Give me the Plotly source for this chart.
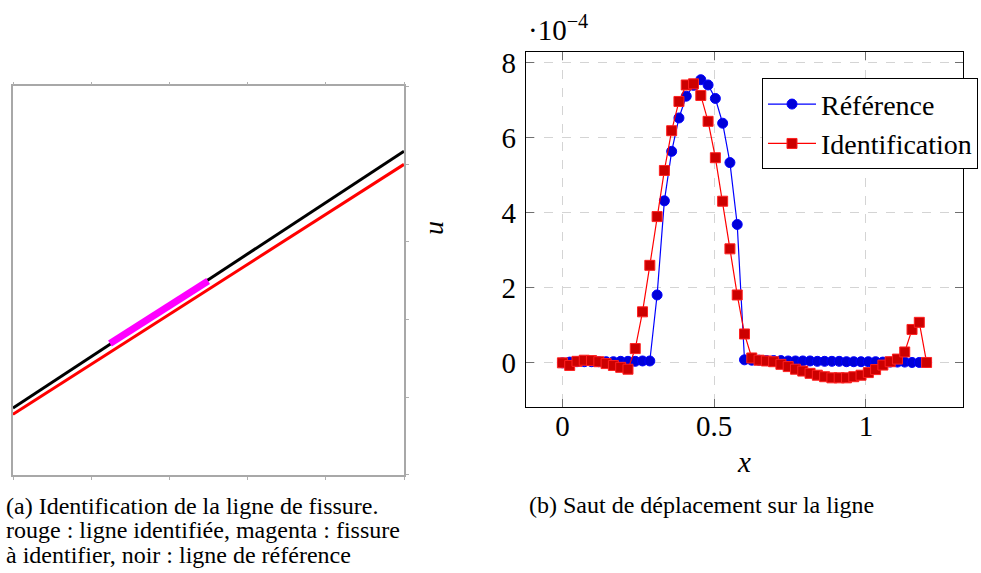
import plotly.graph_objects as go

# ---------------- data ----------------
# (a) crack lines (normalised image coordinates)
ligne_ref_x = [0.0, 1.0]
ligne_ref_y = [0.172, 0.833]
ligne_ident_x = [0.0, 1.0]
ligne_ident_y = [0.156, 0.799]
fissure_x = [0.248, 0.499]
fissure_y = [0.338, 0.499]
cadre_ticks = [0.0, 0.2, 0.4, 0.6, 0.8, 1.0]

# (b) displacement jump along the line (values in units of 1e-4)
x_pos = [0.000, 0.024, 0.048, 0.072, 0.096, 0.120, 0.144, 0.168, 0.192, 0.216,
         0.240, 0.264, 0.288, 0.312, 0.336, 0.360, 0.384, 0.408, 0.432, 0.456,
         0.480, 0.504, 0.528, 0.552, 0.576, 0.600, 0.624, 0.648, 0.672, 0.696,
         0.720, 0.744, 0.768, 0.792, 0.816, 0.840, 0.864, 0.888, 0.912, 0.936,
         0.960, 0.984, 1.008, 1.032, 1.056, 1.080, 1.104, 1.128, 1.152, 1.176,
         1.200]
saut_reference = [0.00, 0.02, 0.03, 0.03, 0.03, 0.03, 0.03, 0.03, 0.04, 0.04,
                  0.04, 0.05, 0.05, 1.81, 4.32, 5.64, 6.53, 7.11, 7.40, 7.55,
                  7.41, 7.05, 6.39, 5.34, 3.69, 0.08, 0.07, 0.07, 0.06, 0.06,
                  0.06, 0.05, 0.05, 0.05, 0.05, 0.04, 0.04, 0.04, 0.04, 0.03,
                  0.03, 0.03, 0.03, 0.03, 0.02, 0.02, 0.02, 0.02, 0.01, 0.01,
                  0.01]
saut_identification = [0.00, -0.07, 0.04, 0.07, 0.06, 0.03, -0.02, -0.07, -0.12, -0.17,
                       0.38, 1.36, 2.60, 3.90, 5.13, 6.19, 6.97, 7.41, 7.44, 7.13,
                       6.44, 5.47, 4.31, 3.04, 1.81, 0.77, 0.13, 0.07, 0.05, 0.03,
                       -0.04, -0.10, -0.17, -0.22, -0.28, -0.33, -0.37, -0.40, -0.40, -0.40,
                       -0.37, -0.33, -0.26, -0.18, -0.06, 0.03, 0.10, 0.29, 0.89, 1.08,
                       0.01]
x_ticks = [0, 0.5, 1]
x_ticktext = ["0", "0.5", "1"]
y_ticks = [0, 2, 4, 6, 8]
y_ticktext = ["0", "2", "4", "6", "8"]

caption_a = ["(a) Identification de la ligne de fissure.",
             "rouge : ligne identifiée, magenta : fissure",
             "à identifier, noir : ligne de référence"]
caption_b = "(b) Saut de déplacement sur la ligne"

# ---------------- figure ----------------
W, H = 981, 573
SERIF = "Liberation Serif"

def px_x(p):
    return p / W

def px_y(p):
    return 1 - p / H

fig = go.Figure()

# panel (a)
fig.add_trace(go.Scatter(x=ligne_ref_x, y=ligne_ref_y, mode="lines",
                         line=dict(color="black", width=3),
                         xaxis="x", yaxis="y", showlegend=False))
fig.add_trace(go.Scatter(x=ligne_ident_x, y=ligne_ident_y, mode="lines",
                         line=dict(color="#ff0000", width=3),
                         xaxis="x", yaxis="y", showlegend=False))
fig.add_trace(go.Scatter(x=fissure_x, y=fissure_y, mode="lines",
                         line=dict(color="#ff00ff", width=7),
                         xaxis="x", yaxis="y", showlegend=False))

# panel (b)
fig.add_trace(go.Scatter(x=x_pos, y=saut_reference, mode="lines+markers",
                         name="Référence",
                         line=dict(color="#0000ff", width=1.2),
                         marker=dict(symbol="circle", size=10, color="#0000d8",
                                     line=dict(color="#0000ff", width=1)),
                         xaxis="x2", yaxis="y2"))
fig.add_trace(go.Scatter(x=x_pos, y=saut_identification, mode="lines+markers",
                         name="Identification",
                         line=dict(color="#ff0000", width=1.2),
                         marker=dict(symbol="square", size=10, color="#cc0000",
                                     line=dict(color="#ff2020", width=1)),
                         xaxis="x2", yaxis="y2"))

annotations = []
# u label of panel (a)
annotations.append(dict(text="<i>u</i>", x=px_x(433), y=px_y(225), xref="paper", yref="paper",
                        showarrow=False, textangle=-90,
                        font=dict(family=SERIF, size=28, color="black")))
# exponent label
annotations.append(dict(text="·10<sup>−4</sup>", x=px_x(526), y=px_y(23), xref="paper", yref="paper",
                        xanchor="left", yanchor="middle", showarrow=False,
                        font=dict(family=SERIF, size=29, color="black")))
# captions
for i, line in enumerate(caption_a):
    annotations.append(dict(text=line, x=px_x(4), y=px_y(505 + 25 * i), xref="paper", yref="paper",
                            xanchor="left", yanchor="middle", showarrow=False,
                            font=dict(family=SERIF, size=24, color="black")))
annotations.append(dict(text=caption_b, x=px_x(527), y=px_y(504), xref="paper", yref="paper",
                        xanchor="left", yanchor="middle", showarrow=False,
                        font=dict(family=SERIF, size=24, color="black")))

fig.update_layout(
    width=W, height=H,
    margin=dict(l=0, r=0, t=0, b=0),
    paper_bgcolor="white", plot_bgcolor="white",
    font=dict(family=SERIF, color="black"),
    xaxis=dict(domain=[px_x(13), px_x(404)], range=[0, 1], tickvals=cadre_ticks,
               showticklabels=False, showgrid=False, zeroline=False,
               showline=True, linecolor="#a8a8a8", linewidth=1.5, mirror="ticks",
               ticks="outside", ticklen=3, tickwidth=1, tickcolor="#b0b0b0"),
    yaxis=dict(domain=[px_y(474), px_y(82)], range=[0, 1], tickvals=cadre_ticks,
               showticklabels=False, showgrid=False, zeroline=False, side="right",
               showline=True, linecolor="#a8a8a8", linewidth=1.5, mirror=True,
               ticks="outside", ticklen=3, tickwidth=1, tickcolor="#b0b0b0"),
    xaxis2=dict(domain=[px_x(526), px_x(963)], range=[-0.12, 1.32], anchor="y2",
                tickvals=x_ticks, ticktext=x_ticktext,
                tickfont=dict(family=SERIF, size=29, color="black"),
                showgrid=True, gridcolor="#d4d4d4", griddash="dash", gridwidth=1,
                zeroline=False, showline=True, linecolor="black", linewidth=1.2,
                mirror="ticks", ticks="inside", ticklen=8, tickcolor="#707070",
                ticklabelstandoff=-7,
                title=dict(text="<i>x</i>", font=dict(family=SERIF, size=29, color="black"),
                           standoff=10)),
    yaxis2=dict(domain=[px_y(406), px_y(47)], range=[-1.19, 8.3], anchor="x2",
                tickvals=y_ticks, ticktext=y_ticktext,
                tickfont=dict(family=SERIF, size=29, color="black"),
                showgrid=True, gridcolor="#d4d4d4", griddash="dash", gridwidth=1,
                zeroline=False, showline=True, linecolor="black", linewidth=1.2,
                mirror="ticks", ticks="inside", ticklen=8, tickcolor="#707070",
                ticklabelstandoff=3),
    legend=dict(x=px_x(762), y=px_y(74), xanchor="left", yanchor="top",
                bgcolor="white", bordercolor="black", borderwidth=1,
                font=dict(family=SERIF, size=28, color="black"),
                itemwidth=48, tracegroupgap=0),
    annotations=annotations,
)

fig.write_html("out.html",
               config={"displayModeBar": False},
               post_script="document.body.style.margin='0';document.body.style.overflow='hidden';")
